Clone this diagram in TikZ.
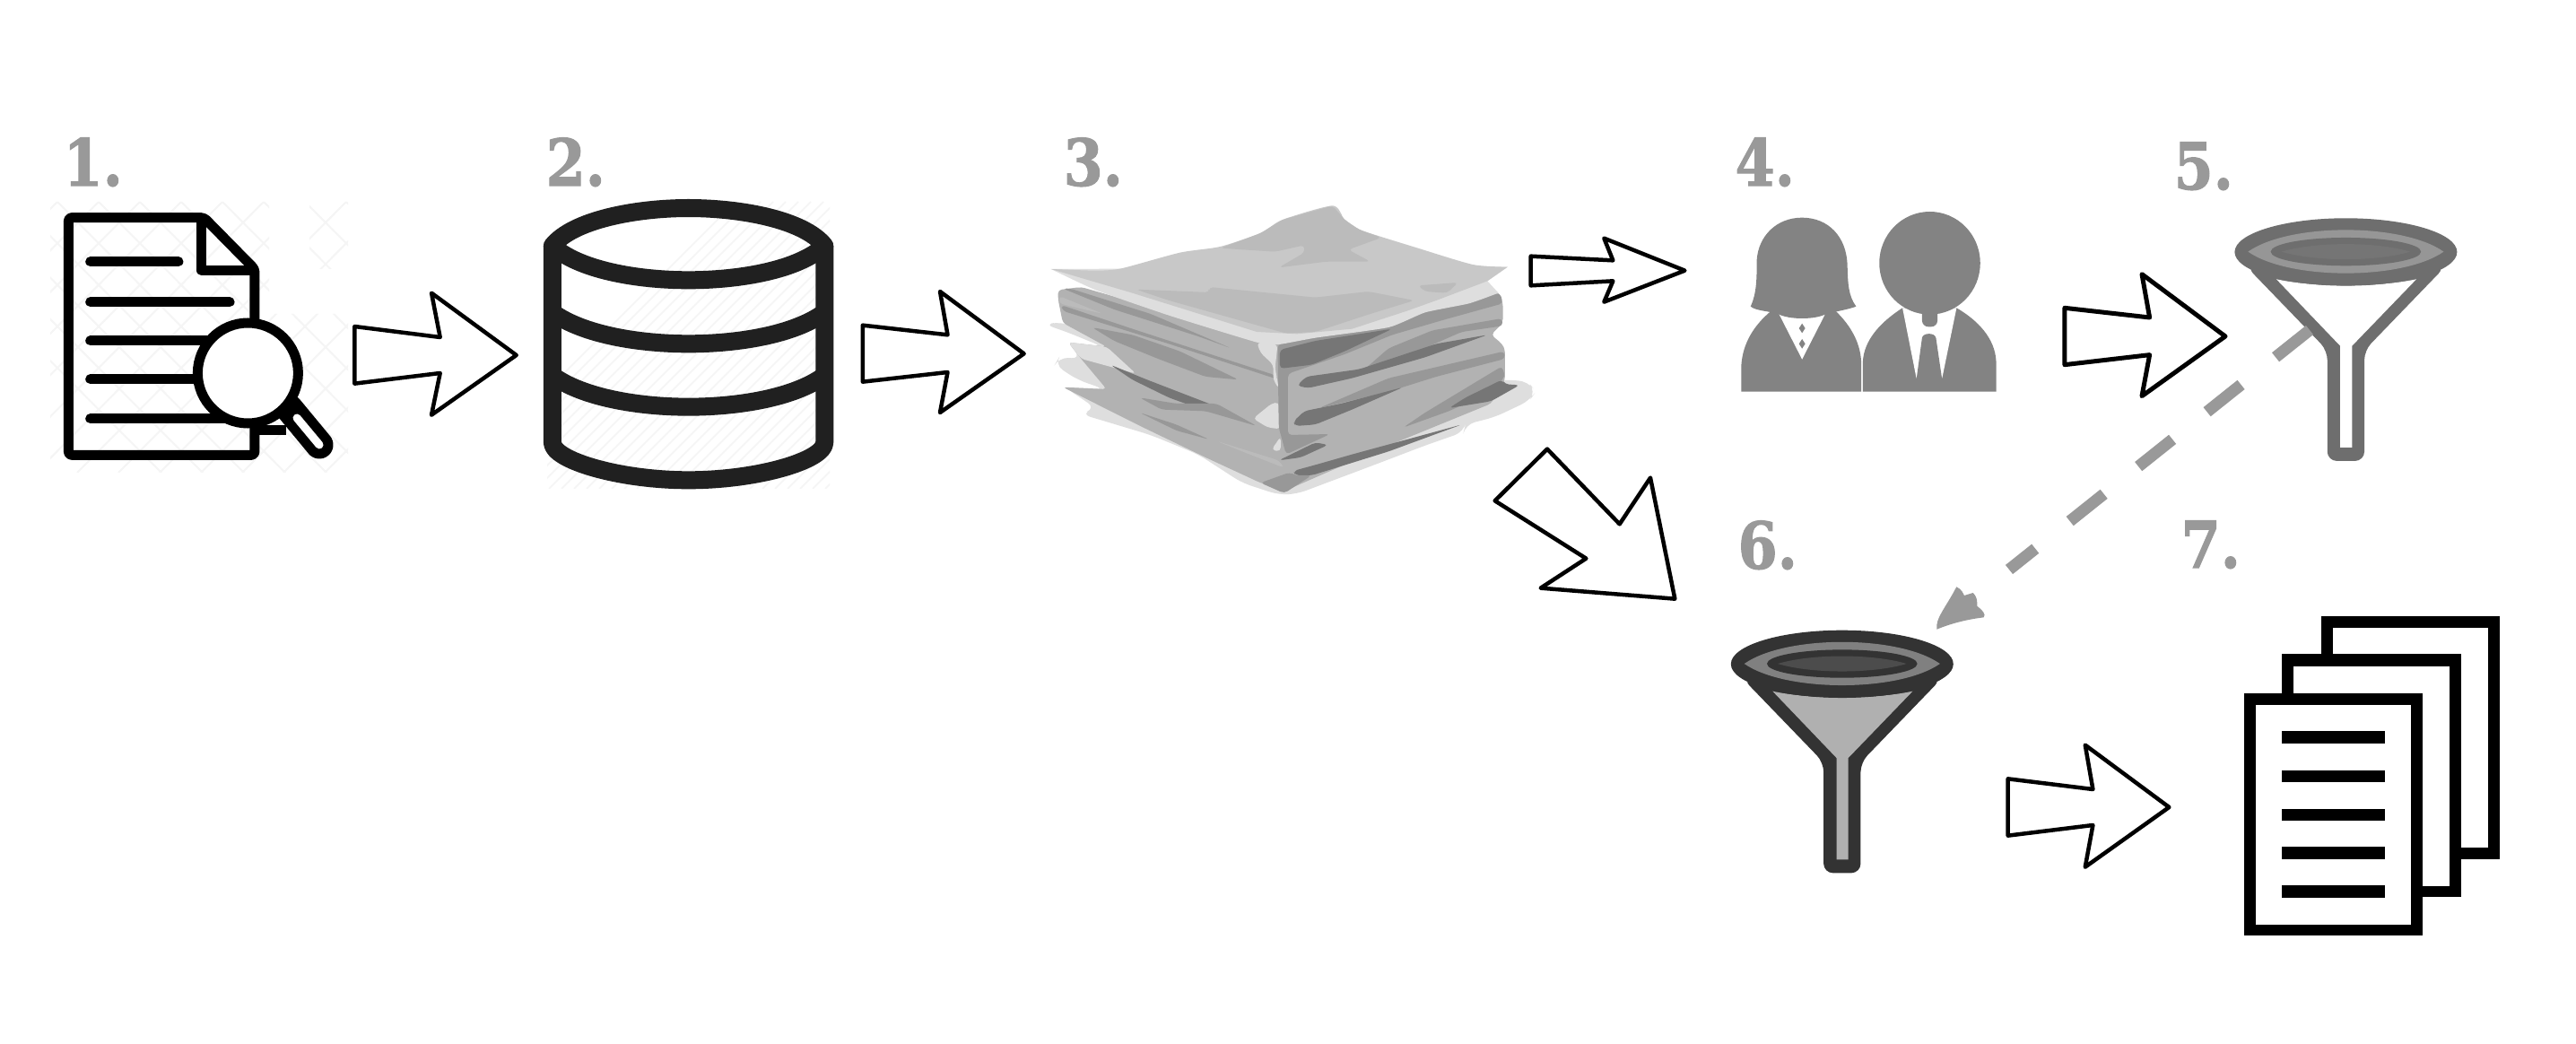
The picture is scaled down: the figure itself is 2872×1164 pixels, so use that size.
\documentclass[tikz,border=0pt]{standalone}
\usepackage{fontspec}
\newfontfamily\labfont[BoldFeatures={FakeBold=1.6}]{DejaVu Serif}
\definecolor{labgray}{HTML}{999999}
\definecolor{dbblack}{HTML}{202020}
\definecolor{people}{HTML}{838383}
\definecolor{pa}{HTML}{DEDEDE}
\definecolor{pb}{HTML}{C8C8C8}
\definecolor{pc}{HTML}{BBBBBB}
\definecolor{pd}{HTML}{B2B2B2}
\definecolor{pe}{HTML}{989898}
\definecolor{pf}{HTML}{767676}
\tikzset{
  pxw/.style={line width=#1*0.2845pt},
  Z1/.style={shift={(40,130)},xscale=1/2.8,yscale=1/3},
  Z5/.style={shift={(580,130)},xscale=1/2.703,yscale=1/3},
  Z2/.style={shift={(1140,210)},xscale=1/2.45,yscale=1/3},
  Z3/.style={shift={(1880,130)},xscale=1/1.742,yscale=1/3},
  Z4/.style={shift={(1900,560)},xscale=1/1.742,yscale=1/3},
  Z6/.style={shift={(1650,250)},xscale=1/3,yscale=1/3},
  blockarrow/.style={draw=black,fill=white,line join=round,pxw=4.5},
  numlabel/.style={text=labgray,font=\labfont\bfseries\fontsize{20.5}{20.5}\selectfont,anchor=base west,inner sep=0pt,xscale=.88,transform shape},
  paper/.style={rounded corners=1.2pt},
}
% funnel: x, y of the top centre, outer colour, lens colour, inner colour, fill of the cone
\newcommand{\funnelicon}[6]{%
  \begin{scope}[shift={(#1,#2)},xscale=1/1.742,yscale=1/3]
    \fill[#3,rounded corners=3pt] (-193,162) -- (-36,442) -- (-36,812) -- (36,812) -- (36,442) -- (193,162) -- cycle;
    \fill[#6] (-135,204) .. controls (-60,232) and (60,232) .. (137,204) -- (12,427) -- (12,767) -- (-11,767) -- (-11,427) -- cycle;
    \fill[#3] (0,113) ellipse [x radius=216,y radius=113];
    \fill[#4] (-190,112) .. controls (-110,15) and (110,15) .. (190,112) .. controls (110,208) and (-110,208) .. (-190,112) -- cycle;
    \fill[#3] (0,112) ellipse [x radius=146,y radius=47];
    \fill[#5] (-125,112) .. controls (-60,78) and (60,78) .. (125,112) .. controls (60,146) and (-60,146) .. (-125,112) -- cycle;
  \end{scope}}
\begin{document}
\begin{tikzpicture}[x=0.01cm,y=-0.01cm]
\useasboundingbox (0,0) rectangle (2872,1164);
\fill[white] (0,0) rectangle (2872,1164);

% ---------- labels
\node[numlabel] (n1) at (70,207) {1.};
\node[numlabel] (n2) at (608,207) {2.};
\node[numlabel] (n3) at (1185,207) {3.};
\node[numlabel] (n4) at (1934,207) {4.};
\node[numlabel] (n5) at (2423,211) {5.};
\node[numlabel] (n6) at (1937,634) {6.};
\node[numlabel] (n7) at (2431,633) {7.};

% ---------- 1 document and magnifier
\begin{scope}
  \clip (56,225) rectangle (300,527) (300,350) rectangle (388,527) (345,225) rectangle (388,300);
  \foreach \i in {0,46,...,900} {
    \draw[black!4,pxw=2] (\i-120,225) -- (\i+300-120,527);
    \draw[black!4,pxw=2] (\i-120,225) -- (\i-300-120,527);
  }
\end{scope}
\begin{scope}[Z1]
  \draw[black,pxw=11,line join=round,rounded corners=1pt]
    (525,338) -- (102,338) -- (102,1132) -- (683,1132) -- (683,510) -- cycle;
  \draw[black,pxw=11,line join=round] (518,338) -- (518,515) -- (683,515);
  \draw[black,pxw=11,line cap=round] (170,485) -- (445,485);
  \draw[black,pxw=11,line cap=round] (170,620) -- (605,620);
  \draw[black,pxw=11,line cap=round] (170,750) -- (540,750);
  \draw[black,pxw=11,line cap=round] (170,878) -- (500,878);
  \draw[black,pxw=11,line cap=round] (170,1010) -- (600,1010);
  \draw[black,pxw=11] (683,1050) -- (780,1050);
  \draw[black,pxw=31,line cap=round] (790,975) -- (885,1098);
  \draw[white,pxw=9,line cap=round] (815,1008) -- (885,1098);
\end{scope}
\draw[black,fill=white,pxw=11] (276.4,416) circle (56);

% ---------- block arrows
\begin{scope}[Z1]
  \draw[blockarrow] (995,702) -- (1262,738) -- (1235,590) -- (1500,798) -- (1235,998) -- (1262,858) -- (995,893) -- cycle;
\end{scope}
\begin{scope}[Z5]
  \draw[blockarrow] (1032,698) -- (1288,730) -- (1265,585) -- (1518,793) -- (1265,990) -- (1288,855) -- (1032,887) -- cycle;
\end{scope}
\begin{scope}[Z6]
  \draw[blockarrow] (170,107) -- (445,121) -- (415,47) -- (685,155) -- (415,260) -- (445,190) -- (170,205) -- cycle;
  \draw[blockarrow] (225,752) -- (467,1003) -- (570,848) -- (652,1253) -- (203,1217) -- (355,1118) -- (50,925) -- cycle;
\end{scope}
\begin{scope}[Z3]
  \draw[blockarrow,pxw=5] (735,640) -- (900,672) -- (885,527) -- (1047,735) -- (885,935) -- (900,797) -- (735,830) -- cycle;
\end{scope}
\begin{scope}[Z4]
  \draw[blockarrow] (590,925) -- (755,960) -- (740,812) -- (903,1020) -- (740,1220) -- (755,1080) -- (590,1115) -- cycle;
\end{scope}

% ---------- 2 database
\begin{scope}
  \clip (610,225) rectangle (925,545);
  \foreach \i in {0,14,...,700} {
    \draw[black!4,pxw=1.5] (\i+500,545) -- (\i+820,225);
  }
\end{scope}
\begin{scope}[Z5,dbblack,pxw=20,line join=round]
  \draw (97,432) .. controls (160,345) and (350,306) .. (507,306)
        .. controls (665,306) and (855,345) .. (917,432)
        .. controls (840,512) and (665,547) .. (507,547)
        .. controls (350,547) and (175,512) .. (97,432) -- cycle;
  \draw (97,432) -- (97,1090) .. controls (97,1150) and (300,1216) .. (507,1216)
        .. controls (715,1216) and (917,1150) .. (917,1090) -- (917,432);
  \draw (97,655) .. controls (190,730) and (360,760) .. (507,760) .. controls (655,760) and (825,730) .. (917,655);
  \draw (97,866) .. controls (190,941) and (360,971) .. (507,971) .. controls (655,971) and (825,941) .. (917,866);
\end{scope}

% ---------- 3 stack of paper
\begin{scope}[Z2]
  \fill[pa,rounded corners=3pt] (60,455) -- (105,447) -- (240,500) -- (700,700) -- (1310,640) -- (1380,645) -- (1402,680) -- (1385,710) -- (1290,765) -- (1210,790) -- (1205,815) -- (1100,860) -- (950,930) -- (750,1022) -- (700,1025) -- (600,985) -- (480,890) -- (350,825) -- (160,755) -- (200,735) -- (115,665) -- (225,672) -- (150,640) -- (88,590) -- (100,565) -- (160,570) -- (125,515) -- (220,530) -- (120,480) -- cycle;
  \fill[pd,paper] (97,340) -- (160,330) -- (700,520) -- (1300,345) -- (1312,380) -- (1312,450) -- (1280,490) -- (1310,520) -- (1318,540) -- (1318,640) -- (1280,720) -- (1000,860) -- (720,1010) -- (650,985) -- (500,900) -- (330,800) -- (110,665) -- (230,672) -- (160,570) -- (125,515) -- (230,530) -- (110,450) -- (97,370) -- cycle;
  % left face
  \fill[pa,paper] (125,515) -- (230,530) -- (310,620) -- (220,590) -- (160,570) -- cycle;
  \fill[pe,paper] (190,465) -- (300,490) -- (430,545) -- (590,640) -- (500,630) -- (370,570) -- (250,510) -- cycle;
  \fill[pe,paper] (110,335) -- (130,335) -- (350,420) -- (570,535) -- (480,495) -- (250,405) -- cycle;
  \fill[pc,paper] (100,360) -- (220,420) -- (100,385) -- cycle;
  \fill[pe,paper] (105,390) -- (300,470) -- (690,625) -- (700,640) -- (400,520) -- (110,410) -- cycle;
  \fill[pf,paper] (240,590) -- (340,640) -- (520,725) -- (495,742) -- (400,700) -- (300,640) -- cycle;
  \fill[pe,paper] (320,700) -- (420,720) -- (530,720) -- (640,795) -- (500,745) -- (380,740) -- cycle;
  \fill[pe,paper] (320,750) -- (420,790) -- (510,840) -- (420,810) -- cycle;
  \fill[pc,paper] (530,845) -- (700,910) -- (715,935) -- (600,880) -- cycle;
  \fill[pa,paper] (630,770) -- (680,720) -- (700,715) -- (705,805) -- (670,800) -- cycle;
  \fill[pa,paper] (680,875) -- (705,830) -- (705,880) -- cycle;
  % right face
  \fill[pe,paper] (697,522) -- (1000,450) -- (1100,410) -- (1305,350) -- (1312,385) -- (1150,440) -- (1010,490) -- (880,555) -- (725,620) -- (725,825) -- (840,822) -- (720,890) -- (700,800) -- cycle;
  \fill[pe,paper] (1310,435) -- (1312,460) -- (1200,480) -- (1060,555) -- (930,610) -- (1000,535) -- (1120,475) -- cycle;
  \fill[pe,paper] (1316,545) -- (1318,570) -- (1130,630) -- (1000,680) -- (810,735) -- (1000,635) -- cycle;
  \fill[pe,paper] (1040,800) -- (1100,750) -- (1310,595) -- (1318,630) -- (1280,680) -- (1165,745) -- cycle;
  \fill[pf,paper] (703,540) -- (800,510) -- (1010,470) -- (880,545) -- (790,590) -- (703,603) -- cycle;
  \fill[pf,paper] (750,660) -- (775,630) -- (920,605) -- (1130,520) -- (1270,490) -- (1100,565) -- (900,635) -- (780,668) -- cycle;
  \fill[pf,paper] (740,780) -- (770,745) -- (870,720) -- (1040,665) -- (900,740) -- (800,790) -- (745,795) -- cycle;
  \fill[pf,paper] (1165,735) -- (1210,700) -- (1310,640) -- (1318,655) -- (1358,658) -- (1280,712) -- cycle;
  \fill[pf,paper] (700,910) -- (800,850) -- (835,858) -- (760,900) -- cycle;
  \fill[pf,paper] (740,945) -- (800,925) -- (900,890) -- (1200,790) -- (1000,880) -- (790,960) -- (745,960) -- cycle;
  \fill[pe,paper] (650,985) -- (730,950) -- (745,960) -- (790,960) -- (715,1020) -- cycle;
  \fill[pa,paper] (640,515) -- (697,522) -- (690,600) -- (700,670) -- (685,640) -- (685,590) -- (650,550) -- cycle;
  % top sheet
  \fill[pa] plot[smooth,tension=.3] coordinates {(78,270) (200,340) (400,425) (640,515) (700,522) (800,500) (1000,465) (1100,415) (1220,385) (1300,350)} -- (1270,310) -- (1325,263) -- cycle;
  \fill[pb] plot[smooth,tension=.4] coordinates {(78,270) (200,275) (270,268) (430,215) (540,195) (650,150) (710,105) (847,58) (880,105) (920,138) (1080,200) (1230,255) (1325,263)} -- (1270,310) -- (1130,375) -- (1050,410) -- (900,470) -- (750,487) -- (640,480) -- (300,350) -- cycle;
  \fill[pc,paper] (310,338) -- (510,348) -- (510,330) -- (800,365) -- (945,345) -- (1070,375) -- (950,420) -- (800,480) -- (720,485) -- (560,430) -- (400,375) -- cycle;
  \fill[pc,paper] (700,265) -- (770,215) -- (770,190) -- (690,212) -- (540,200) -- (650,150) -- (710,105) -- (847,58) -- (880,105) -- (920,138) -- (980,165) -- (890,205) -- (950,245) -- (830,245) -- cycle;
  \fill[pc,paper] (1080,325) -- (1190,315) -- (1160,350) -- (1100,345) -- cycle;
\end{scope}

% ---------- 4 people
\begin{scope}[Z3]
  \fill[people] (107,920) -- (107,830) .. controls (110,760) and (130,700) .. (165,650) -- (290,650) .. controls (320,700) and (340,760) .. (340,830) -- (340,920) -- cycle;
  \fill[white] (180,660) -- (270,660) -- (225,812) -- cycle;
  \fill[people] (225,692) -- (231,708) -- (225,724) -- (219,708) -- cycle;
  \fill[people] (225,744) -- (231,760) -- (225,776) -- (219,760) -- cycle;
  \fill[people] (125,635) .. controls (137,590) and (137,540) .. (137,480)
     .. controls (140,400) and (175,338) .. (225,338)
     .. controls (275,338) and (312,400) .. (313,500)
     .. controls (314,560) and (315,600) .. (330,635)
     .. controls (315,645) and (295,650) .. (272,660)
     .. controls (250,680) and (200,680) .. (178,660)
     .. controls (160,650) and (135,650) .. (125,635) -- cycle;
  \fill[people] (343,920) -- (343,820) .. controls (345,750) and (375,690) .. (420,640) -- (525,640) .. controls (565,680) and (600,740) .. (602,820) -- (602,920) -- cycle;
  \fill[white] (420,640) -- (525,640) -- (497,875) -- (447,875) -- cycle;
  \fill[people] (458,740) .. controls (460,722) and (483,722) .. (485,740) -- (497,880) -- (470,900) -- (447,880) -- cycle;
  \fill[people,rounded corners=2pt] (458,640) rectangle (488,703);
  \fill[people] (473,490) ellipse [x radius=98,y radius=172];
\end{scope}

% ---------- 5 and 6 funnels
\funnelicon{2615.4}{243.3}{black!57}{black!41}{black!54}{white}
\funnelicon{2053.8}{702.7}{black!80}{black!50}{black!70}{black!31}
\coordinate (dashstart) at (2575,368);
\coordinate (dashend) at (2240,635);
\draw[labgray,pxw=13,dash pattern=on 13.8pt off 14pt] (dashstart) -- (dashend);
\begin{scope}[Z4]
  \fill[labgray] (452,425) .. controls (448,390) and (470,350) .. (490,283) .. controls (500,290) and (503,305) .. (505,312) -- (522,303) .. controls (532,320) and (530,335) .. (530,347) .. controls (540,360) and (548,375) .. (543,385) .. controls (510,392) and (480,405) .. (452,425) -- cycle;
\end{scope}

% ---------- 7 pages
\begin{scope}[Z4]
  \fill[black] (1198,380) rectangle (1545,1195);
  \fill[white] (1222,420) rectangle (1523,1155);
  \fill[black] (1122,508) rectangle (1470,1320);
  \fill[white] (1145,550) rectangle (1448,1285);
  \fill[black] (1048,638) rectangle (1396,1450);
  \fill[white] (1072,677) rectangle (1373,1412);
  \fill[black] (1122,766) rectangle (1322,808);
  \fill[black] (1122,896) rectangle (1322,935);
  \fill[black] (1122,1025) rectangle (1322,1066);
  \fill[black] (1122,1153) rectangle (1322,1194);
  \fill[black] (1122,1282) rectangle (1322,1323);
\end{scope}
\end{tikzpicture}
\end{document}
